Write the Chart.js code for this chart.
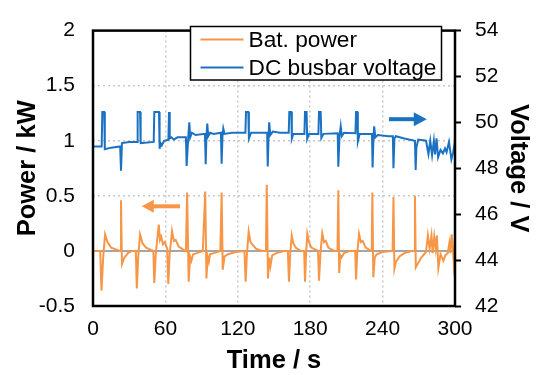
<!DOCTYPE html>
<html>
<head>
<meta charset="utf-8">
<script src="https://cdn.jsdelivr.net/npm/chart.js@4"></script>
<style>
  html, body { margin: 0; padding: 0; background: #fff; }
  #wrap { width: 538px; height: 375px; }
</style>
</head>
<body>
<div id="wrap"><canvas id="grafico" width="538" height="375"></canvas></div>
<script>
// dados
const timeTicks = [0, 60, 120, 180, 240, 300];
const powerTicks = [-0.5, 0, 0.5, 1, 1.5, 2];
const voltTicks = [42, 44, 46, 48, 50, 52, 54];

const seriesNames = ["Bat. power", "DC busbar voltage"];

const timePower = [0, 6, 7, 8.5, 10, 12, 15, 20, 22.5, 23.2, 24, 26, 29, 32, 35.5, 36.3, 37.5, 39, 41, 44, 48, 50,
  50.8, 52, 54.5, 55.5, 56.5, 58, 59.5, 61.5, 62.4, 63.5, 65.5, 67, 68.5, 71, 75, 77, 78, 79.3, 80.5, 81.5, 83, 86,
  91, 93, 94, 95, 96, 97, 100, 105.5, 106.6, 107.5, 109, 112, 118, 125.5, 126.5, 127.5, 129, 130.5, 132, 135, 140,
  143.3, 144, 145, 146, 147, 148.5, 152, 158, 161.5, 162.4, 163.5, 164.7, 166, 168, 172, 175, 175.7, 176.6, 177.6,
  179, 181, 186.5, 187.3, 188.5, 190, 191.5, 193, 195, 200, 202.6, 203.3, 204, 205, 206, 208, 213, 217.3, 218, 219,
  220.5, 222, 223.5, 226, 229, 231, 231.5, 232.3, 233.5, 235, 240, 248.3, 249, 249.8, 251, 254, 258, 264, 266.2,
  266.8, 267.5, 269, 272, 276, 277.5, 279, 280.5, 281.5, 282.8, 284, 285, 286.2, 288, 290.3, 292, 294, 295.3, 296.2,
  297.2, 298.3, 299.3, 300];
const powerKW = [0, 0, -0.36, -0.05, 0.15, 0.08, 0.03, 0.01, 0, 0.46, -0.12, -0.06, -0.02, 0, 0, -0.34, -0.05, 0.15,
  0.07, 0.03, 0.01, 0, -0.29, -0.03, 0.24, 0.1, 0.13, 0.06, 0.08, 0.02, -0.30, -0.03, 0.18, 0.09, 0.1, 0.04, 0.01, 0,
  0.53, -0.28, -0.05, -0.09, -0.03, -0.02, 0, 0.54, -0.25, -0.05, -0.1, -0.03, -0.02, 0, 0.53, -0.17, -0.05, -0.03,
  -0.01, 0, -0.28, -0.04, 0.175, 0.08, 0.06, 0.02, 0, 0, 0.6, -0.25, -0.06, -0.14, -0.04, -0.02, 0, 0, -0.28, -0.02,
  0.14, 0.07, 0.03, 0, 0, -0.28, -0.02, 0.155, 0.08, 0.03, 0, -0.27, -0.02, 0.16, 0.08, 0.09, 0.03, 0, 0, 0.55, -0.2,
  -0.04, -0.06, -0.02, 0, 0, -0.26, -0.02, 0.155, 0.08, 0.09, 0.03, 0.01, 0, 0.53, -0.24, -0.06, -0.03, -0.01, 0,
  0.49, -0.16, -0.1, -0.05, -0.02, 0, 0, 0.5, -0.15, -0.12, -0.06, -0.01, 0.14, 0.02, 0.14, -0.02, 0.13, 0.02, 0.14,
  -0.155, -0.03, -0.09, -0.04, -0.02, 0.07, -0.02, 0.15, 0.02, -0.16, -0.12];

const timeVolt = [0, 7.2, 7.7, 9.3, 9.8, 15, 22.5, 23.2, 24, 30, 36.5, 37, 39, 39.5, 45, 50.3, 50.8, 54.7, 55.2, 56,
  57, 59, 62.5, 63, 63.6, 65, 67, 70, 77, 77.6, 79, 79.8, 80.6, 82, 85, 92.8, 93.4, 94, 94.7, 95.5, 97, 100, 106,
  106.6, 107.3, 108, 109, 115, 126.3, 126.8, 128.7, 129.2, 131, 140, 144.3, 144.8, 145.5, 146, 147, 149, 155, 162.2,
  162.7, 164.3, 164.8, 166, 175.2, 175.7, 177, 177.5, 179, 186.8, 187.3, 188.7, 189.2, 191, 202.8, 203.3, 204.3,
  205.3, 206.2, 208, 217.5, 218, 219, 219.5, 221, 231.2, 231.7, 232.4, 233, 234, 236, 245, 248.5, 249, 249.8, 251,
  258, 266.8, 267.4, 268, 269.5, 276, 278, 279.5, 281, 282.5, 283.5, 284.7, 286, 288, 290, 291.7, 293, 295, 297,
  298.5, 300];
const voltageV = [48.95, 48.95, 50.45, 50.45, 48.83, 48.9, 48.95, 47.9, 49.1, 49.15, 49.15, 50.45, 50.45, 49.1,
  49.12, 49.15, 50.45, 50.45, 48.85, 49.1, 49.0, 49.2, 49.25, 50.45, 49.3, 49.35, 49.25, 49.35, 49.35, 48.1, 49.4,
  50.0, 49.35, 49.55, 49.45, 49.5, 48.18, 49.4, 49.95, 49.4, 49.55, 49.5, 49.55, 48.2, 49.4, 49.73, 49.5, 49.55,
  49.55, 50.45, 50.45, 49.3, 49.55, 49.55, 49.55, 48.08, 49.4, 50.0, 49.45, 49.6, 49.55, 49.55, 50.45, 50.45, 49.3,
  49.5, 49.5, 50.45, 50.45, 49.28, 49.5, 49.5, 50.45, 50.45, 49.32, 49.5, 49.53, 48.07, 49.4, 49.83, 49.4, 49.55,
  49.53, 50.45, 50.45, 49.17, 49.5, 49.5, 48.04, 49.3, 49.83, 49.35, 49.45, 49.4, 49.4, 48.0, 49.3, 49.4, 49.3, 49.2,
  47.93, 48.9, 49.25, 49.2, 48.62, 49.2, 48.57, 49.2, 48.6, 49.31, 48.48, 48.8, 48.65, 48.87, 48.7, 49.15, 48.39,
  48.7, 49.17];

const corLaranja = "#F79646";
const corAzul = "#1B72C2";
const fonte = "'Liberation Sans', Arial, sans-serif";

function pontos(xs, ys) {
  return xs.map((x, i) => ({ x: x, y: ys[i] }));
}

function fixarTicks(lista) {
  return function (scale) {
    scale.ticks = lista.map(v => ({ value: v }));
  };
}

function rotulo(valor) {
  return String(valor);
}

// linha do zero, moldura, setas e legenda desenhadas à mão
const extras = {
  id: "extras",
  beforeDatasetsDraw(chart) {
    const { ctx, chartArea, scales } = chart;
    const y0 = scales.yP.getPixelForValue(0);
    ctx.save();
    ctx.strokeStyle = "#a6a6a6";
    ctx.lineWidth = 2;
    ctx.beginPath();
    ctx.moveTo(chartArea.left, y0);
    ctx.lineTo(chartArea.right, y0);
    ctx.stroke();
    ctx.restore();
  },
  afterDatasetsDraw(chart) {
    const { ctx, chartArea, scales } = chart;
    const a = chartArea;
    ctx.save();

    // moldura
    ctx.strokeStyle = "#000";
    ctx.lineWidth = 2.5;
    ctx.strokeRect(a.left, a.top, a.right - a.left, a.bottom - a.top);

    // seta azul -> eixo da direita
    let x1 = scales.x.getPixelForValue(245.3);
    let x2 = scales.x.getPixelForValue(276.6);
    let y = scales.yV.getPixelForValue(50.14);
    ctx.strokeStyle = corAzul;
    ctx.fillStyle = corAzul;
    ctx.lineWidth = 4;
    ctx.beginPath();
    ctx.moveTo(x1, y);
    ctx.lineTo(x2 - 12, y);
    ctx.stroke();
    ctx.beginPath();
    ctx.moveTo(x2, y);
    ctx.lineTo(x2 - 13, y - 7);
    ctx.lineTo(x2 - 13, y + 7);
    ctx.closePath();
    ctx.fill();

    // seta laranja <- eixo da esquerda
    x1 = scales.x.getPixelForValue(72.1);
    x2 = scales.x.getPixelForValue(40.4);
    y = scales.yP.getPixelForValue(0.405);
    ctx.strokeStyle = corLaranja;
    ctx.fillStyle = corLaranja;
    ctx.beginPath();
    ctx.moveTo(x1, y);
    ctx.lineTo(x2 + 11, y);
    ctx.stroke();
    ctx.beginPath();
    ctx.moveTo(x2, y);
    ctx.lineTo(x2 + 12, y - 6.5);
    ctx.lineTo(x2 + 12, y + 6.5);
    ctx.closePath();
    ctx.fill();

    // legenda
    ctx.fillStyle = "#fff";
    ctx.fillRect(190.5, 26.5, 251, 53.5);
    ctx.strokeStyle = "#000";
    ctx.lineWidth = 1.5;
    ctx.strokeRect(190.5, 26.5, 251, 53.5);
    const cores = [corLaranja, corAzul];
    const linhas = [39.5, 67.5];
    const bases = [47, 74.5];
    ctx.font = "22.7px " + fonte;
    ctx.textBaseline = "alphabetic";
    ctx.textAlign = "left";
    seriesNames.forEach((nome, i) => {
      ctx.strokeStyle = cores[i];
      ctx.lineWidth = 2;
      ctx.beginPath();
      ctx.moveTo(200.5, linhas[i]);
      ctx.lineTo(243.5, linhas[i]);
      ctx.stroke();
      ctx.fillStyle = "#000";
      ctx.fillText(nome, 248.5, bases[i]);
    });
    ctx.restore();
  }
};

const ctx = document.getElementById("grafico").getContext("2d");

const grafico = new Chart(ctx, {
  type: "line",
  data: {
    datasets: [
      {
        label: seriesNames[0],
        data: pontos(timePower, powerKW),
        yAxisID: "yP",
        borderColor: corLaranja,
        borderWidth: 2,
        pointRadius: 0,
        tension: 0,
        fill: false,
      },
      {
        label: seriesNames[1],
        data: pontos(timeVolt, voltageV),
        yAxisID: "yV",
        borderColor: corAzul,
        borderWidth: 2,
        pointRadius: 0,
        tension: 0,
        fill: false,
      },
    ],
  },
  options: {
    responsive: false,
    animation: false,
    layout: { padding: { top: 16, left: 0, right: 0, bottom: 0 } },
    plugins: {
      legend: { display: false },
      tooltip: { enabled: false },
    },
    scales: {
      x: {
        type: "linear",
        min: 0,
        max: 300,
        afterBuildTicks: fixarTicks(timeTicks),
        afterFit(scale) { scale.height = 69; },
        grid: { color: "#c8c8c8", lineWidth: 1.5, drawTicks: false },
        border: { display: false, dash: [2, 3] },
        ticks: { color: "#000", font: { family: fonte, size: 21 }, padding: 11, maxRotation: 0, callback: rotulo },
        title: {
          display: true,
          text: "Time / s",
          color: "#000",
          font: { family: fonte, size: 25.5, weight: "bold", lineHeight: 1 },
          padding: { top: 0, bottom: 1 },
        },
      },
      yP: {
        position: "left",
        min: -0.5,
        max: 2,
        afterBuildTicks: fixarTicks(powerTicks),
        afterFit(scale) { scale.width = 93; },
        grid: { color: "#c8c8c8", lineWidth: 1.5, drawTicks: false },
        border: { display: false, dash: [2, 3] },
        ticks: { color: "#000", font: { family: fonte, size: 21 }, padding: 18, callback: rotulo },
        title: {
          display: true,
          text: "Power / kW",
          color: "#000",
          font: { family: fonte, size: 25.5, weight: "bold", lineHeight: 1 },
          padding: { top: 15.5, bottom: 0 },
        },
      },
      yV: {
        position: "right",
        min: 42,
        max: 54,
        afterBuildTicks: fixarTicks(voltTicks),
        afterFit(scale) { scale.width = 83; },
        grid: { drawOnChartArea: false, drawTicks: true, tickLength: 6, tickColor: "#000", tickWidth: 2 },
        border: { display: false },
        ticks: { color: "#000", font: { family: fonte, size: 21 }, padding: 14, callback: rotulo },
        title: {
          display: true,
          text: "Voltage / V",
          color: "#000",
          font: { family: fonte, size: 25.5, weight: "bold", lineHeight: 1 },
          padding: { top: 7.5, bottom: 0 },
        },
      },
    },
  },
  plugins: [extras],
});
</script>
</body>
</html>
